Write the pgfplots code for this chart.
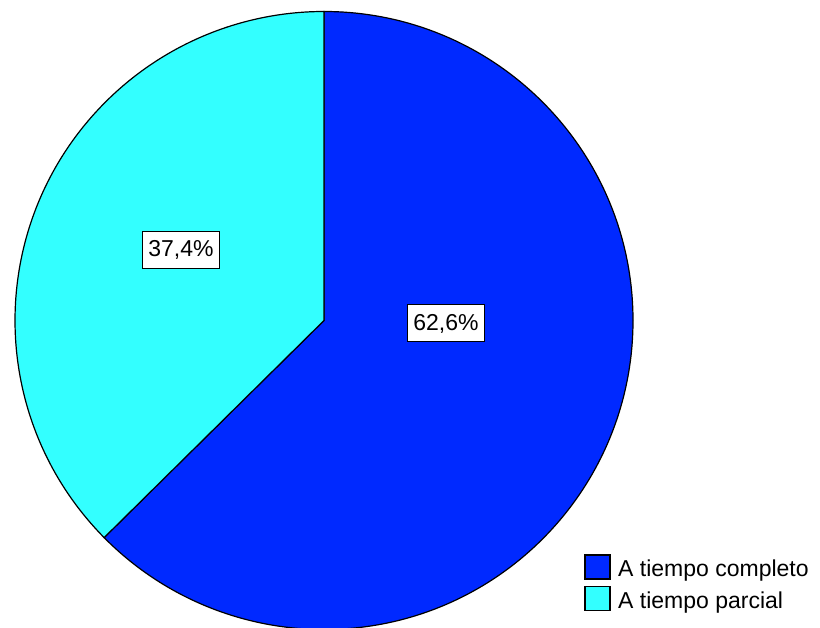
\documentclass[border=0pt]{standalone}
\usepackage{pgfplots}
\pgfplotsset{compat=1.18}
\usepackage{pgfplotstable}
\usepackage{fontspec}
\setmainfont{Liberation Sans}
\definecolor{pieblue}{RGB}{0,41,255}
\definecolor{piecyan}{RGB}{51,255,255}
\pgfplotstableread{
label value
completo 62.6
parcial 37.4
}\piedata
\begin{document}
\begin{tikzpicture}
\pgfplotstablegetelem{0}{value}\of\piedata \let\va\pgfplotsretval
\pgfplotstablegetelem{1}{value}\of\piedata \let\vb\pgfplotsretval
\pgfmathsetmacro{\aend}{90-\va*3.6}
\pgfmathsetmacro{\bend}{\aend-\vb*3.6}
\begin{axis}[width=820bp,height=628bp,scale only axis,
  xmin=0,xmax=820,ymin=0,ymax=628,hide axis,clip=true]
\filldraw[fill=pieblue,draw=black,line width=1.2bp] (axis cs:324,307.5) -- ++(90:309bp)
  arc[start angle=90,end angle=\aend,radius=309bp] -- cycle;
\filldraw[fill=piecyan,draw=black,line width=1.2bp] (axis cs:324,307.5) -- ++(\aend:309bp)
  arc[start angle=\aend,end angle=\bend,radius=309bp] -- cycle;
\node[draw=black,fill=white,line width=1bp,inner xsep=6bp,minimum height=37bp,font=\fontsize{23bp}{27bp}\selectfont]
  at (axis cs:446,304.5) {62,6\%};
\node[draw=black,fill=white,line width=1bp,inner xsep=6bp,minimum height=37bp,font=\fontsize{23bp}{27bp}\selectfont]
  at (axis cs:181,378) {37,4\%};
% legend
\node[draw=black,fill=pieblue,line width=1.2bp,minimum width=25bp,minimum height=24bp,inner sep=0pt]
  at (axis cs:597.5,61) {};
\node[draw=black,fill=piecyan,line width=1.2bp,minimum width=25bp,minimum height=24bp,inner sep=0pt]
  at (axis cs:597.5,29.5) {};
\node[anchor=base west,inner sep=0pt,font=\fontsize{23bp}{27bp}\selectfont] at (axis cs:618,51.3) {A tiempo completo};
\node[anchor=base west,inner sep=0pt,font=\fontsize{23bp}{27bp}\selectfont] at (axis cs:618,19.5) {A tiempo parcial};
\end{axis}
\pgfresetboundingbox
\useasboundingbox (0,0) rectangle (820bp,628bp);
\end{tikzpicture}
\end{document}
